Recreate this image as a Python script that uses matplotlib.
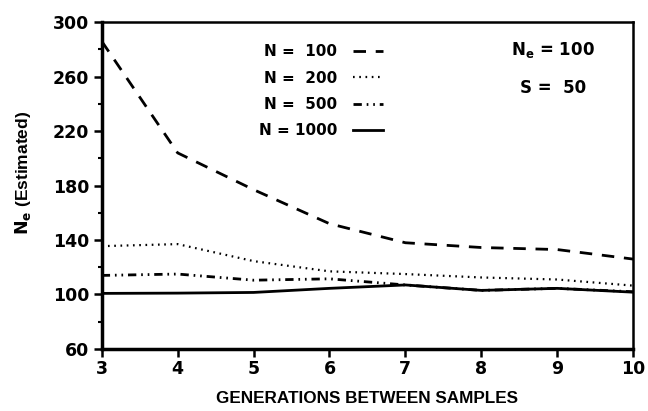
import matplotlib
matplotlib.use("Agg")
import matplotlib.pyplot as plt
from matplotlib.lines import Line2D

plt.rcParams['font.family'] = ['DejaVu Sans']
plt.rcParams['font.weight'] = 'bold'
plt.rcParams['lines.scale_dashes'] = False

generations = [3, 4, 5, 6, 7, 8, 9, 10]
ne_n100 = [286, 204, 177, 152, 138, 134.5, 133, 126]
ne_n200 = [135.5, 137, 124.5, 117, 115, 112.5, 111, 106.5]
ne_n500 = [114, 115, 110.5, 111.5, 107, 103, 104.5, 102]
ne_n1000 = [100.8, 101, 101.5, 104.5, 107, 103, 104.5, 101.7]

labels = ["N =  100", "N =  200", "N =  500", "N = 1000"]
xticks = [3, 4, 5, 6, 7, 8, 9, 10]
yticks = [60, 100, 140, 180, 220, 260, 300]

fig = plt.figure(figsize=(6.48, 4.11), dpi=100)
ax = fig.add_axes([0.157, 0.151, 0.820, 0.795])

styles = [
    dict(linestyle=(0, (9, 7)), linewidth=2.0),
    dict(linestyle=(0, (1.2, 3.3)), linewidth=1.6),
    dict(linestyle=(0, (6, 3.5, 1.2, 3.5, 1.2, 3.5)), linewidth=2.0),
    dict(linestyle='-', linewidth=2.0),
]
series = [ne_n100, ne_n200, ne_n500, ne_n1000]
for ys, st in zip(series, styles):
    ax.plot(generations, ys, color='black', **st)

ax.set_xlim(3, 10)
ax.set_ylim(60, 300)
ax.set_xticks(xticks)
ax.set_yticks(yticks)
ax.set_yticks([80, 120, 160, 200, 240, 280], minor=True)
for s in ax.spines.values():
    s.set_linewidth(1.8)
ax.spines['left'].set_linewidth(2.5)
ax.spines['bottom'].set_linewidth(2.5)
ax.tick_params(axis='both', which='major', direction='out', length=6, width=1.8,
               labelsize=12.5)
ax.tick_params(axis='y', which='minor', direction='out', length=3, width=1.5)
ax.tick_params(axis='x', which='major', pad=2)
ax.tick_params(axis='y', which='major', pad=3)
for t in ax.get_xticklabels() + ax.get_yticklabels():
    t.set_fontweight('bold')

ax.set_xlabel("GENERATIONS BETWEEN SAMPLES", fontsize=12.3, fontweight='bold',
              fontfamily='Liberation Sans', labelpad=9)
ax.set_ylabel(r"$\mathbf{N_e}$ (Estimated)", fontsize=12.5, fontweight='bold',
              fontfamily='Liberation Sans')
ax.yaxis.set_label_coords(-0.13, 0.54)

handles = [Line2D([], [], color='black', **st) for st in styles]
leg = ax.legend(handles, labels, loc='upper left', bbox_to_anchor=(0.27, 0.975),
                frameon=False, markerfirst=False, handlelength=2.0,
                handletextpad=1.0, labelspacing=0.75,
                prop=dict(family='DejaVu Sans', weight='bold', size=11))

ax.text(0.85, 0.914, r"N$_\mathbf{e}$ = 100", transform=ax.transAxes, ha='center',
        va='center', fontsize=12, fontweight='bold')
ax.text(0.85, 0.80, "S =  50", transform=ax.transAxes, ha='center',
        va='center', fontsize=12, fontweight='bold')

fig.savefig("out.png", dpi=100)
